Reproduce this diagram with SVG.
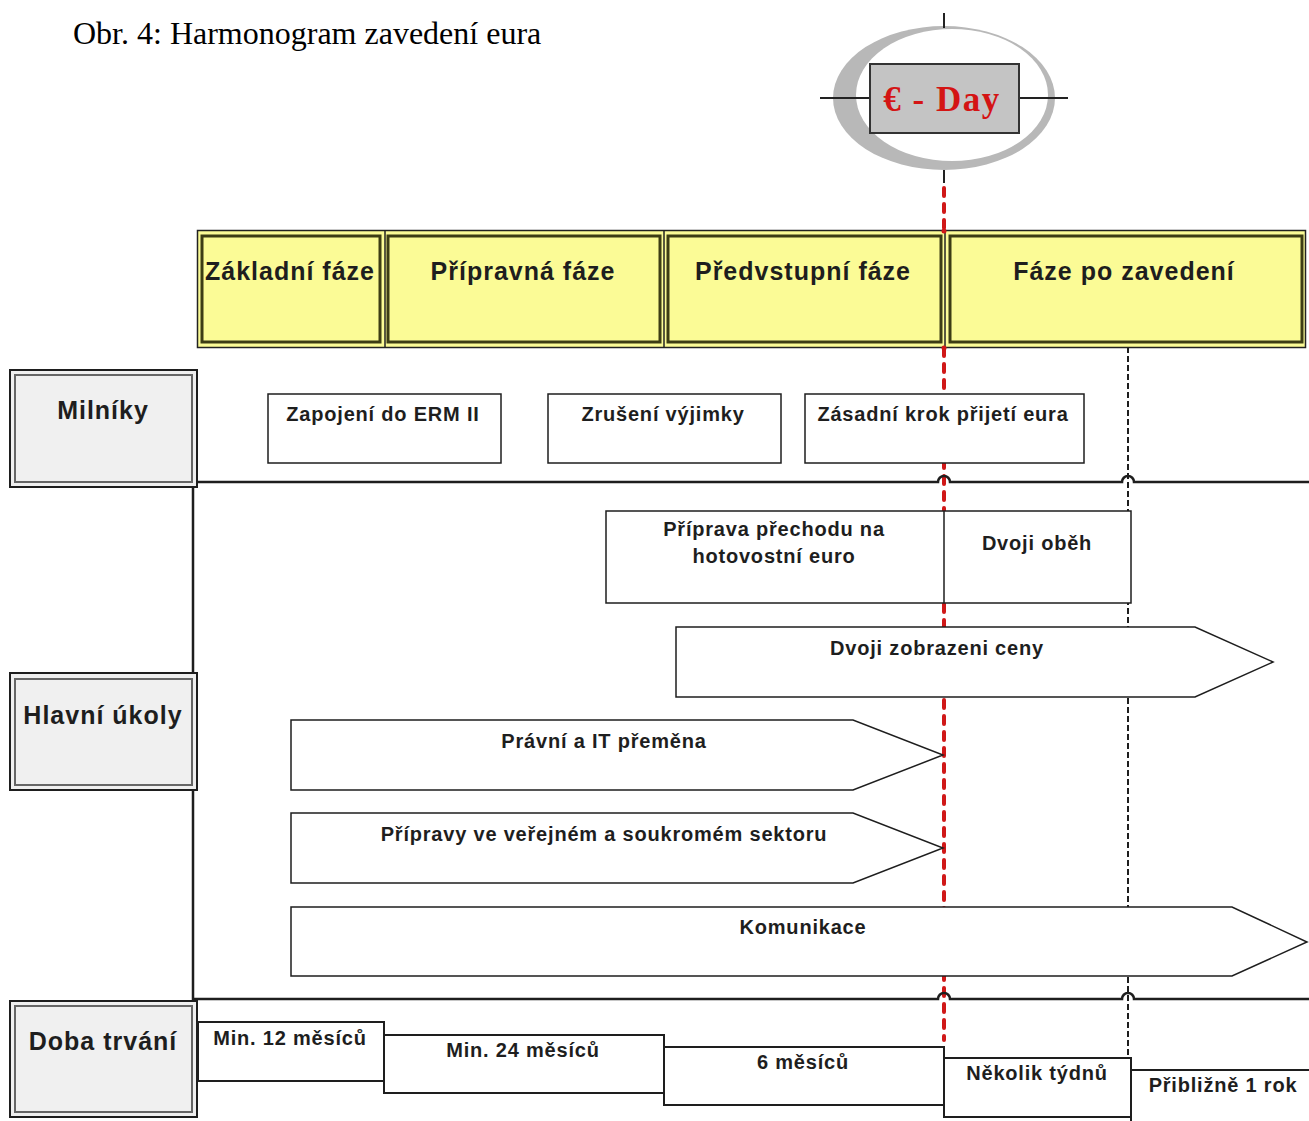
<svg xmlns="http://www.w3.org/2000/svg" width="1309" height="1121" viewBox="0 0 1309 1121">
<style>
.t{font-family:"Liberation Sans",Arial,sans-serif;font-weight:bold;fill:#1e1e1e;text-anchor:middle}
.h{font-size:25px;letter-spacing:1px}
.s{font-size:20px;letter-spacing:0.8px}
.box{fill:#fff;stroke:#1e1e1e;stroke-width:1.5}
.dur{fill:#fff;stroke:#1e1e1e;stroke-width:2}
.hdrO{fill:#f0f0f0;stroke:#1e1e1e;stroke-width:2}
.hdrI{fill:none;stroke:#666;stroke-width:2}
.ph{fill:#fbfb96;stroke:#3c3c14;stroke-width:3}
.arr{fill:#fff;stroke:#1e1e1e;stroke-width:1.5}
</style>
<rect width="1309" height="1121" fill="#fff"/>
<text x="73" y="44" font-family="'Liberation Serif','Times New Roman',serif" font-size="32" fill="#000">Obr. 4: Harmonogram zavedení eura</text>

<!-- E-Day logo -->
<g id="eday">
<ellipse cx="944" cy="98" rx="111" ry="72" fill="#b8b8b8"/>
<ellipse cx="952" cy="95" rx="96" ry="66" fill="#fff"/>
<line x1="944" y1="13" x2="944" y2="28" stroke="#222" stroke-width="2"/>
<line x1="944" y1="170" x2="944" y2="183" stroke="#222" stroke-width="2"/>
<line x1="820" y1="98" x2="870" y2="98" stroke="#222" stroke-width="2"/>
<line x1="1019" y1="98" x2="1068" y2="98" stroke="#222" stroke-width="2"/>
<rect x="870" y="64" width="149" height="69" fill="#c4c4c4" stroke="#333" stroke-width="2"/>
<text x="942" y="111" font-family="'Liberation Serif','Times New Roman',serif" font-weight="bold" font-size="35" letter-spacing="1.5" fill="#d41414" text-anchor="middle">€ - Day</text>
</g>

<!-- connectors / timeline lines -->
<g id="connectors">
<line x1="944" y1="188" x2="944" y2="1040" stroke="#d01818" stroke-width="4" stroke-dasharray="8 8" stroke-linecap="round"/>
<line x1="1128" y1="347" x2="1128" y2="1058" stroke="#1e1e1e" stroke-width="2" stroke-dasharray="6 3"/>
<line x1="193" y1="482" x2="193" y2="1000" stroke="#1e1e1e" stroke-width="2.5"/>
<path d="M193 482 H938 A6 6 0 0 1 950 482 H1122 A6 6 0 0 1 1134 482 H1309" fill="none" stroke="#1e1e1e" stroke-width="2.5"/>
<path d="M193 999 H938 A6 6 0 0 1 950 999 H1122 A6 6 0 0 1 1134 999 H1309" fill="none" stroke="#1e1e1e" stroke-width="2.5"/>
</g>

<!-- phases -->
<g id="phases">
<rect x="197.5" y="230.5" width="1108" height="117" fill="#fbfb96" stroke="#222" stroke-width="1.5"/>
<line x1="385" y1="230" x2="385" y2="348" stroke="#222" stroke-width="1.5"/>
<line x1="664" y1="230" x2="664" y2="348" stroke="#222" stroke-width="1.5"/>
<line x1="945" y1="230" x2="945" y2="348" stroke="#222" stroke-width="1.5"/>
<g id="phase1"><rect class="ph" x="202" y="236" width="178" height="106"/><text class="t h" x="290" y="280">Základní fáze</text></g>
<g id="phase2"><rect class="ph" x="388" y="236" width="272" height="106"/><text class="t h" x="523" y="280">Přípravná fáze</text></g>
<g id="phase3"><rect class="ph" x="668" y="236" width="273" height="106"/><text class="t h" x="803" y="280">Předvstupní fáze</text></g>
<g id="phase4"><rect class="ph" x="950" y="236" width="352" height="106"/><text class="t h" x="1124" y="280">Fáze po zavedení</text></g>
</g>
<circle cx="944" cy="231" r="2.5" fill="#d01818"/>
<circle cx="944" cy="348" r="2.5" fill="#d01818"/>

<!-- row headers -->
<g id="hdr-milniky"><rect class="hdrO" x="10" y="370" width="187" height="117"/><rect class="hdrI" x="15" y="375" width="177" height="107"/><text class="t h" x="103" y="419">Milníky</text></g>
<g id="hdr-ukoly"><rect class="hdrO" x="10" y="673" width="187" height="117"/><rect class="hdrI" x="15" y="679" width="177" height="106"/><text class="t h" x="103" y="724">Hlavní úkoly</text></g>
<g id="hdr-doba"><rect class="hdrO" x="10" y="1001" width="187" height="116"/><rect class="hdrI" x="15" y="1006" width="177" height="106"/><text class="t h" x="103" y="1050">Doba trvání</text></g>

<!-- milestones -->
<g id="ms1"><rect class="box" x="268" y="394" width="233" height="69"/><text class="t s" x="383" y="421">Zapojení do ERM II</text></g>
<g id="ms2"><rect class="box" x="548" y="394" width="233" height="69"/><text class="t s" x="663" y="421">Zrušení výjimky</text></g>
<g id="ms3"><rect class="box" x="805" y="394" width="279" height="69"/><text class="t s" x="943" y="421">Zásadní krok přijetí eura</text></g>

<!-- tasks -->
<g id="task-cash"><rect class="box" x="606" y="511" width="525" height="92"/><line x1="944" y1="511" x2="944" y2="603" stroke="#1e1e1e" stroke-width="1.5"/><text class="t s" x="774" y="536">Příprava přechodu na</text><text class="t s" x="774" y="563">hotovostní euro</text></g>
<g id="task-dual"><text class="t s" x="1037" y="550">Dvoji oběh</text></g>
<g id="task-price"><path class="arr" d="M676 627 H1195 L1273 662 L1195 697 H676 Z"/><text class="t s" x="937" y="655">Dvoji zobrazeni ceny</text></g>
<g id="task-legal"><path class="arr" d="M291 720 H853 L943 755 L853 790 H291 Z"/><text class="t s" x="604" y="748">Právní a IT přeměna</text></g>
<g id="task-prep"><path class="arr" d="M291 813 H853 L943 848 L853 883 H291 Z"/><text class="t s" x="604" y="841">Přípravy ve veřejném a soukromém sektoru</text></g>
<g id="task-comm"><path class="arr" d="M291 907 H1232 L1307 942 L1232 976 H291 Z"/><text class="t s" x="803" y="934">Komunikace</text></g>

<!-- durations -->
<g id="d1"><rect class="dur" x="198" y="1022" width="186" height="59"/><text class="t s" x="290" y="1045">Min. 12 měsíců</text></g>
<g id="d2"><rect class="dur" x="384" y="1035" width="280" height="58"/><text class="t s" x="523" y="1057">Min. 24 měsíců</text></g>
<g id="d3"><rect class="dur" x="664" y="1047" width="280" height="58"/><text class="t s" x="803" y="1069">6 měsíců</text></g>
<g id="d4"><rect class="dur" x="944" y="1058" width="187" height="59"/><text class="t s" x="1037" y="1080">Několik týdnů</text></g>
<g id="d5"><rect class="dur" x="1131" y="1070" width="185" height="60"/><text class="t s" x="1223" y="1092">Přibližně 1 rok</text></g>
</svg>
